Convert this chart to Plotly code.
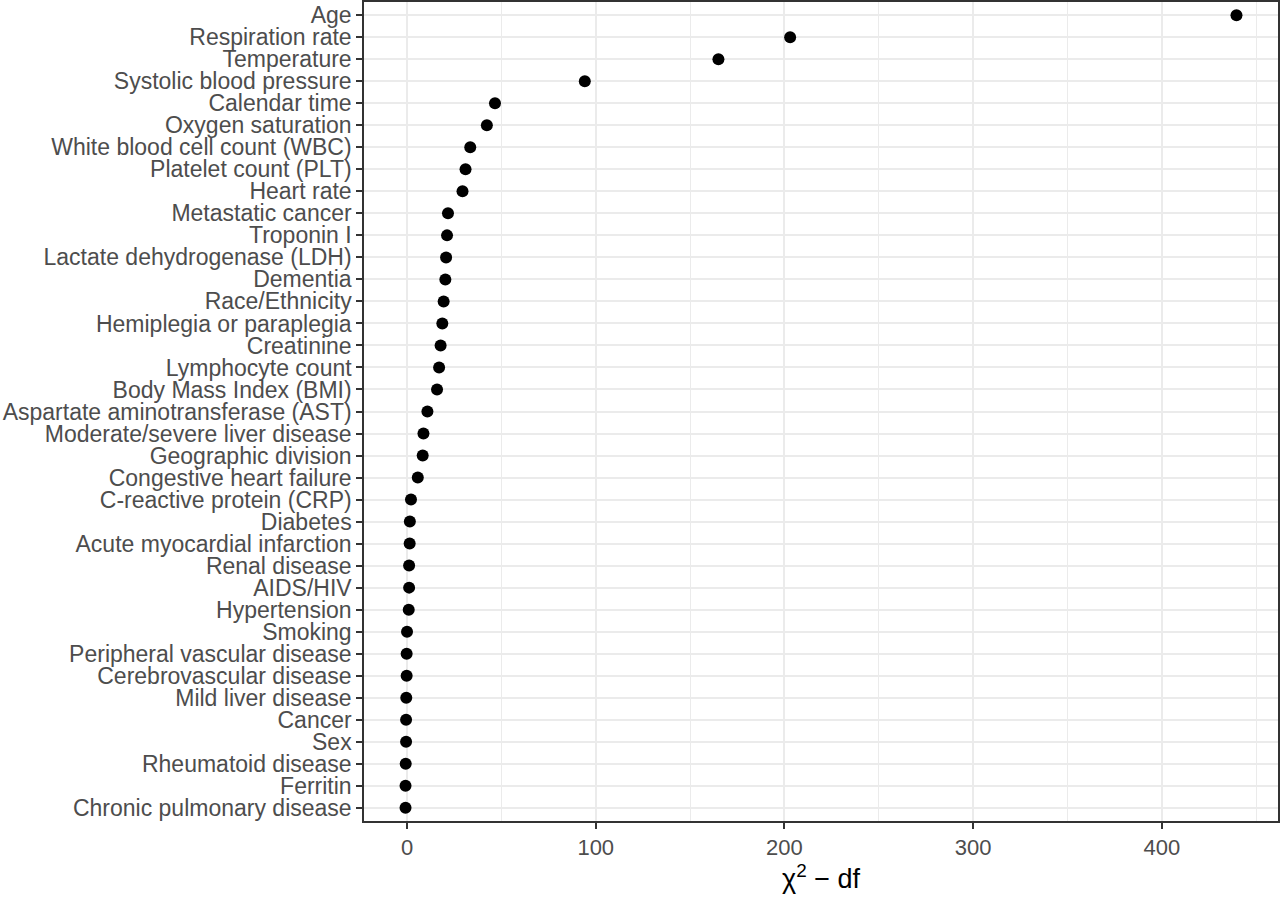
import plotly.graph_objects as go

# predictors, top to bottom
variables = [
    "Age", "Respiration rate", "Temperature", "Systolic blood pressure",
    "Calendar time", "Oxygen saturation", "White blood cell count (WBC)",
    "Platelet count (PLT)", "Heart rate", "Metastatic cancer", "Troponin I",
    "Lactate dehydrogenase (LDH)", "Dementia", "Race/Ethnicity",
    "Hemiplegia or paraplegia", "Creatinine", "Lymphocyte count",
    "Body Mass Index (BMI)", "Aspartate aminotransferase (AST)",
    "Moderate/severe liver disease", "Geographic division",
    "Congestive heart failure", "C-reactive protein (CRP)", "Diabetes",
    "Acute myocardial infarction", "Renal disease", "AIDS/HIV",
    "Hypertension", "Smoking", "Peripheral vascular disease",
    "Cerebrovascular disease", "Mild liver disease", "Cancer", "Sex",
    "Rheumatoid disease", "Ferritin", "Chronic pulmonary disease",
]

# chi-square minus degrees of freedom
chisq_minus_df = [
    439.5, 203.0, 165.0, 94.2,
    46.6, 42.3, 33.5,
    31.0, 29.4, 21.7, 21.2,
    20.7, 20.3, 19.4,
    18.7, 17.8, 17.0,
    15.9, 10.8,
    8.7, 8.3,
    5.7, 2.1, 1.5,
    1.4, 1.1, 1.1,
    0.9, 0.0, -0.2,
    -0.2, -0.4, -0.5, -0.5,
    -0.7, -0.8, -0.8,
]

x_ticks = [0, 100, 200, 300, 400]

FONT = "Liberation Sans, Arial, sans-serif"
GRID = "#EBEBEB"
DARK = "#333333"
LABEL = "#4D4D4D"

fig = go.Figure()

fig.add_trace(go.Scatter(
    x=chisq_minus_df,
    y=variables,
    mode="markers",
    marker=dict(color="black", size=12),
    showlegend=False,
))

fig.update_layout(
    width=1280,
    height=898,
    margin=dict(l=364, r=2, t=2, b=77),
    plot_bgcolor="white",
    paper_bgcolor="white",
    font=dict(family=FONT, size=23, color=LABEL),
    xaxis=dict(
        automargin=False,
        range=[-22.8, 461.5],
        tickmode="array",
        tickvals=x_ticks,
        ticks="outside",
        ticklen=6,
        tickwidth=1.5,
        tickcolor=DARK,
        tickfont=dict(size=22, color=LABEL),
        showgrid=True,
        gridcolor=GRID,
        gridwidth=1.5,
        minor=dict(dtick=50, tick0=0, showgrid=True, gridcolor=GRID, gridwidth=0.8),
        zeroline=False,
        showline=True,
        linecolor=DARK,
        linewidth=1.5,
        mirror=True,
        title=dict(text="χ<sup>2</sup> − df", font=dict(size=27, color="black"), standoff=6),
    ),
    yaxis=dict(
        automargin=False,
        type="category",
        categoryorder="array",
        categoryarray=variables,
        autorange=False,
        range=[len(variables) - 0.4, -0.6],
        tickmode="array",
        tickvals=variables,
        ticktext=variables,
        ticks="outside",
        ticklen=6,
        tickwidth=1.5,
        tickcolor=DARK,
        tickfont=dict(size=23, color=LABEL),
        showgrid=True,
        gridcolor=GRID,
        gridwidth=1.5,
        zeroline=False,
        showline=True,
        linecolor=DARK,
        linewidth=1.5,
        mirror=True,
    ),
)

# drop the browser's default page margin so the figure sits at (0, 0)
fig.write_html(
    "out.html",
    config={"displayModeBar": False},
    post_script="document.body.style.margin='0';",
)
